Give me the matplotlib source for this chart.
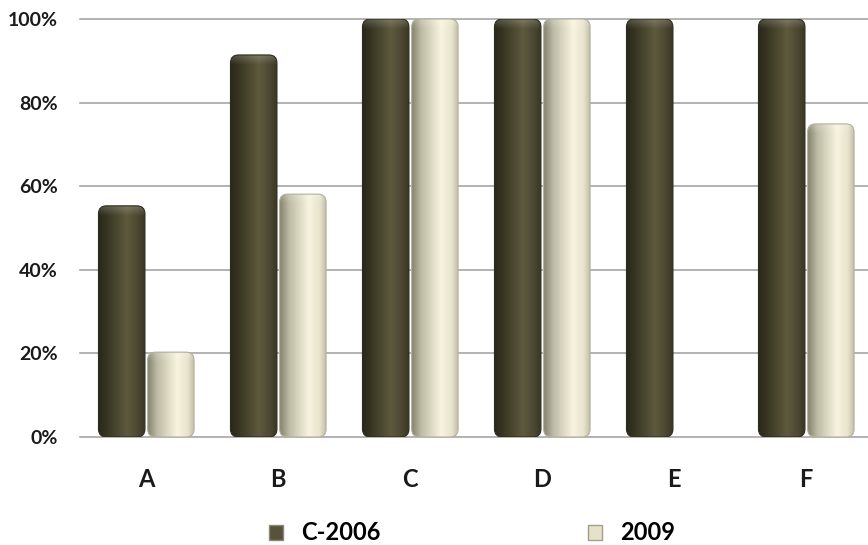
import matplotlib.pyplot as plt
import numpy as np
from matplotlib.patches import FancyBboxPatch, Patch
from matplotlib.colors import LinearSegmentedColormap

# data
categories = ['A', 'B', 'C', 'D', 'E', 'F']
c2006 = [55.3, 91.4, 100, 100, 100, 100]
y2009 = [20.3, 58.1, 100, 100, np.nan, 74.9]
series_names = ['C-2006', '2009']

plt.rcParams['font.family'] = ['Lato', 'DejaVu Sans']
plt.rcParams['font.weight'] = 'bold'

dark_cmap = LinearSegmentedColormap.from_list('dark', [
    (0.0, '#29271a'), (0.15, '#34321f'), (0.62, '#5e5a3e'),
    (0.85, '#4b4731'), (1.0, '#3a3725')])
cream_cmap = LinearSegmentedColormap.from_list('cream', [
    (0.0, '#86846f'), (0.2, '#bfbca6'), (0.62, '#f8f4df'),
    (0.85, '#e7e3cc'), (1.0, '#bdb9a3')])

fig = plt.figure(figsize=(8.68, 5.45), dpi=100)
ax = fig.add_axes([80 / 868, 108 / 545, 792 / 868, 418 / 545])
ax.set_xlim(-0.5, 5.5)
ax.set_ylim(0, 100)

# pixels -> data units, for round corners of equal size in x and y
xpp = 1 / 132
ypp = 100 / 418
aspect = ypp / xpp


def draw_bar(x0, w, h, cmap, edge):
    if np.isnan(h) or h <= 0:
        return
    style = f"round,pad=0,rounding_size={8 * xpp}"
    clip = FancyBboxPatch((x0, 0), w, h, boxstyle=style,
                          mutation_aspect=aspect, facecolor='none',
                          edgecolor='none', zorder=3)
    ax.add_patch(clip)
    grad = np.linspace(0, 1, 256).reshape(1, -1)
    im = ax.imshow(grad, cmap=cmap, extent=[x0, x0 + w, 0, h],
                   aspect='auto', zorder=3, interpolation='bilinear')
    im.set_clip_path(clip)
    # soft light on the rounded top
    cap = np.zeros((32, 1, 4))
    cap[..., :3] = 1.0
    cap[:, 0, 3] = np.linspace(0.0, 0.2, 32)
    im2 = ax.imshow(cap, extent=[x0, x0 + w, h - 10 * ypp, h],
                    aspect='auto', zorder=4, interpolation='bilinear',
                    origin='lower')
    im2.set_clip_path(clip)
    ax.add_patch(FancyBboxPatch((x0, 0), w, h, boxstyle=style,
                                mutation_aspect=aspect, facecolor='none',
                                edgecolor=edge, linewidth=0.8, zorder=5))


x = np.arange(len(categories))
w = 0.352
for i, xi in enumerate(x):
    draw_bar(xi - 0.36, w, c2006[i], dark_cmap, '#2e2c1e')
    draw_bar(xi + 0.012, w, y2009[i], cream_cmap, '#b3b09c')

ax.set_xlim(-0.5, 5.5)
ax.set_ylim(0, 100)
ax.set_yticks(np.arange(0, 101, 20))
ax.set_yticklabels([f'{v}%' for v in range(0, 101, 20)], fontsize=14)
ax.set_xticks(x)
ax.set_xticklabels(categories, fontsize=17)
ax.tick_params(length=0, colors='#1a1a1a')
ax.tick_params(axis='y', pad=16)
ax.tick_params(axis='x', pad=22)
ax.yaxis.grid(True, color='#a6a6a6', linewidth=1.2, zorder=0)
ax.set_axisbelow(True)
for gl in ax.get_ygridlines():
    gl.set_clip_on(False)
for s in ax.spines.values():
    s.set_visible(False)

handles = [Patch(facecolor='#57533a', edgecolor='#8a8878', linewidth=1),
           Patch(facecolor='#e6e2ca', edgecolor='#a09d8a', linewidth=1)]
fig.legend(handles, series_names, loc='center', ncol=2,
           bbox_to_anchor=(472 / 868, 1 - 533 / 545), frameon=False,
           fontsize=17, handlelength=0.6, handleheight=0.6,
           handletextpad=0.75, columnspacing=8.8, borderpad=0)

fig.savefig('out.png', dpi=100)
